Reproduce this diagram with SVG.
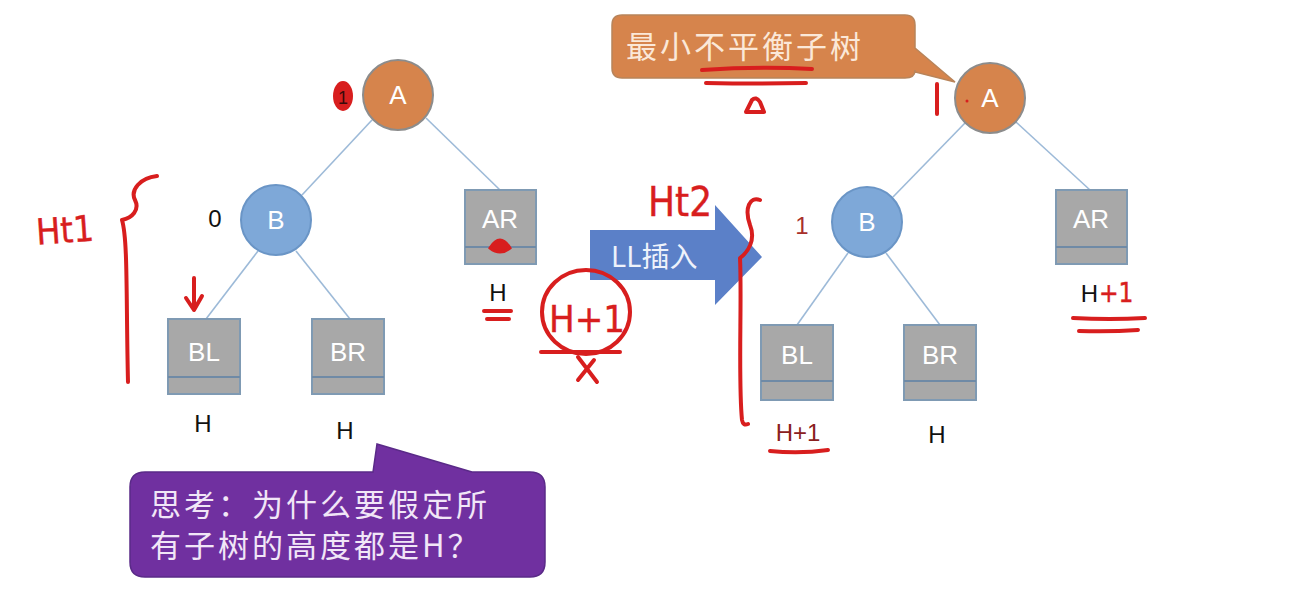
<svg xmlns="http://www.w3.org/2000/svg" width="1300" height="612" viewBox="0 0 1300 612">
<style>
.edge{stroke:#9dbad8;stroke-width:1.6;fill:none}
.na{fill:#d6844c;stroke:#8c8c8c;stroke-width:2}
.nb{fill:#7ea8d8;stroke:#6a95c6;stroke-width:2}
.box{fill:#a8a8a8;stroke:#7f9ab3;stroke-width:2}
.div{stroke:#6f8aa6;stroke-width:2}
.lbl{font-family:"Liberation Sans",Arial,sans-serif;font-size:26px;fill:#ffffff;text-anchor:middle}
.blk{font-family:"Liberation Sans",Arial,sans-serif;font-size:24px;fill:#111111;text-anchor:middle}
.cjk{font-family:"Noto Sans CJK SC","Liberation Sans",sans-serif}
.ink{stroke:#d81e1e;stroke-width:4;fill:none;stroke-linecap:round;stroke-linejoin:round}
.hw{font-family:"DejaVu Sans Condensed","DejaVu Sans",sans-serif;fill:#d81e1e;stroke:#d81e1e;stroke-width:0.4}
</style>
<rect width="1300" height="612" fill="#ffffff"/>
<g id="connectors">
<line class="edge" x1="372" y1="120" x2="302" y2="195"/>
<line class="edge" x1="426" y1="118" x2="500" y2="190"/>
<line class="edge" x1="258" y1="251" x2="206" y2="319"/>
<line class="edge" x1="296" y1="251" x2="350" y2="319"/>
<line class="edge" x1="965" y1="123" x2="893" y2="197"/>
<line class="edge" x1="1016" y1="122" x2="1090" y2="190"/>
<line class="edge" x1="848" y1="253" x2="797" y2="325"/>
<line class="edge" x1="886" y1="253" x2="940" y2="325"/>
</g>
<g id="L-A"><circle class="na" cx="398" cy="95" r="35"/><text class="lbl" x="398" y="104">A</text></g>
<g id="L-B"><circle class="nb" cx="276" cy="220" r="35"/><text class="lbl" x="276" y="229">B</text></g>
<g id="L-AR"><rect class="box" x="465" y="190" width="71" height="74"/><line class="div" x1="465" y1="247" x2="536" y2="247"/><text class="lbl" x="500" y="228">AR</text></g>
<g id="L-BL"><rect class="box" x="168" y="319" width="72" height="75"/><line class="div" x1="168" y1="377" x2="240" y2="377"/><text class="lbl" x="204" y="361">BL</text></g>
<g id="L-BR"><rect class="box" x="312" y="319" width="72" height="75"/><line class="div" x1="312" y1="377" x2="384" y2="377"/><text class="lbl" x="348" y="361">BR</text></g>
<g id="L-labels">
<text class="blk" x="215" y="227">0</text>
<text class="blk" x="203" y="432">H</text>
<text class="blk" x="345" y="439">H</text>
<text class="blk" x="498" y="301">H</text>
</g>
<g id="R-A"><circle class="na" cx="990" cy="98" r="35"/><text class="lbl" x="990" y="107">A</text></g>
<g id="R-B"><circle class="nb" cx="867" cy="222" r="35"/><text class="lbl" x="867" y="231">B</text></g>
<g id="R-AR"><rect class="box" x="1056" y="190" width="71" height="74"/><line class="div" x1="1056" y1="247" x2="1127" y2="247"/><text class="lbl" x="1091" y="228">AR</text></g>
<g id="R-BL"><rect class="box" x="761" y="325" width="72" height="75"/><line class="div" x1="761" y1="381" x2="833" y2="381"/><text class="lbl" x="797" y="364">BL</text></g>
<g id="R-BR"><rect class="box" x="904" y="325" width="72" height="75"/><line class="div" x1="904" y1="381" x2="976" y2="381"/><text class="lbl" x="940" y="364">BR</text></g>
<g id="R-labels">
<text class="blk" x="802" y="234" style="fill:#a8302a">1</text>
<text class="blk" x="798" y="441" style="fill:#8a2020">H+1</text>
<text class="blk" x="937" y="443">H</text>
<text class="blk" x="1098" y="302" style="text-anchor:end">H</text>
</g>
<g id="callout-top">
<path d="M622,15 H905 Q915,15 915,25 V48 L955,82 L915,72 V70 Q915,78 905,78 H622 Q612,78 612,68 V25 Q612,15 622,15 Z" fill="#d6844c" stroke="#b8845a" stroke-width="1.5"/>
<text class="cjk" x="626" y="58" font-size="31" letter-spacing="3" fill="#fbe8d8">最小不平衡子树</text>
</g>
<g id="arrow-LL">
<path d="M590,230 H715 V205 L762,257 L715,305 V280 H590 Z" fill="#5b80c8"/>
<text class="cjk" x="611" y="267" font-size="28" fill="#eef2fb">LL插入</text>
</g>
<g id="callout-purple">
<path d="M145,472 H373 L377,444 L472,472 H530 Q545,472 545,487 V562 Q545,577 530,577 H145 Q130,577 130,562 V487 Q130,472 145,472 Z" fill="#7030a0" stroke="#5a2a88" stroke-width="1.5"/>
<text class="cjk" x="150" y="516" font-size="31" letter-spacing="3" fill="#f1e6f7">思考：为什么要假定所</text>
<text class="cjk" x="150" y="557" font-size="31" letter-spacing="3" fill="#f1e6f7">有子树的高度都是H？</text>
</g>
<g id="annotations">
<text class="hw" x="36" y="243" font-size="36" transform="rotate(-4 60 230)">Ht1</text>
<path class="ink" d="M157,176 C140,178 130,190 135,200 C140,210 132,218 122,220 C128,240 126,300 128,382"/>
<path class="ink" d="M194,278 V310 M186,298 L194,310 L202,296"/>
<ellipse cx="343" cy="96" rx="10" ry="15" fill="#d81e1e"/>
<text x="343" y="104" font-family="Liberation Sans,sans-serif" font-size="18" fill="#3a0a0a" text-anchor="middle">1</text>
<path d="M490,248 Q500,232 510,248 Q500,256 490,248 Z" fill="#d81e1e" stroke="#d81e1e" stroke-width="3"/>
<path class="ink" d="M484,311 H511 M487,319 H509"/>
<text class="hw" x="549" y="332" font-size="38">H+1</text>
<ellipse class="ink" cx="586" cy="312" rx="44" ry="42"/>
<path class="ink" d="M541,352 H620 M578,357 L597,382 M594,360 L578,380"/>
<text class="hw" x="648" y="216" font-size="40">Ht2</text>
<path class="ink" d="M760,200 C750,196 744,208 750,225 C756,240 748,252 740,258 C742,300 738,380 742,420 Q743,426 748,424"/>
<path class="ink" d="M770,451 Q800,454 828,450"/>
<path class="ink" d="M702,70 Q760,66 812,69 M706,83 Q760,84 806,83"/>
<path class="ink" d="M746,112 L752,100 Q756,96 760,102 L764,112 Z" stroke-width="3.5"/>
<path class="ink" d="M937,84 V114" stroke-width="6"/>
<circle cx="967" cy="101" r="1.5" fill="#d81e1e"/>
<text class="hw" x="1099" y="302" font-size="26">+1</text>
<path class="ink" d="M1073,318 Q1110,320 1145,318 M1079,331 Q1110,332 1138,330"/>
</g>
</svg>
